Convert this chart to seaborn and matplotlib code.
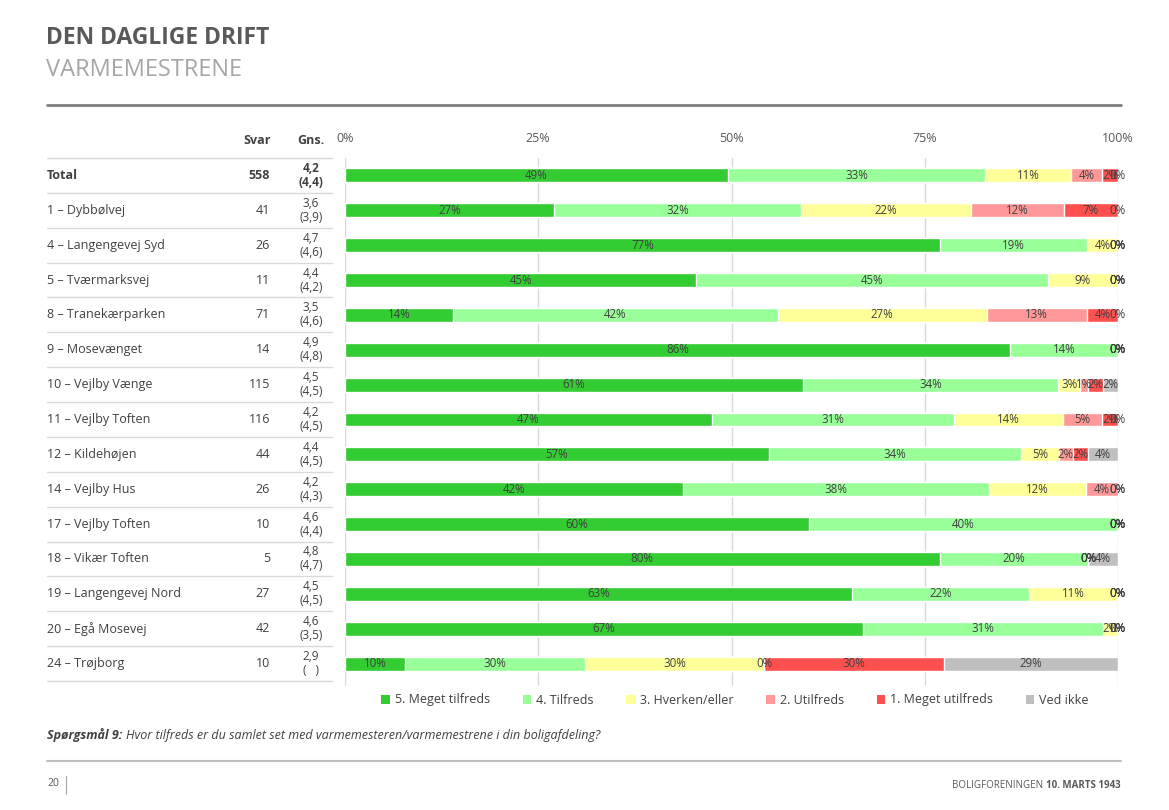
import matplotlib
matplotlib.use("Agg")
import matplotlib.pyplot as plt
import seaborn as sns
import pandas as pd
import numpy as np
from matplotlib.patches import Patch
from matplotlib.lines import Line2D
from matplotlib.transforms import blended_transform_factory

sns.set_style("white")
plt.rcParams['font.family'] = ['Open Sans', 'DejaVu Sans']

categories = ["Total", "1 – Dybbølvej", "4 – Langengevej Syd", "5 – Tværmarksvej",
              "8 – Tranekærparken", "9 – Mosevænget", "10 – Vejlby Vænge",
              "11 – Vejlby Toften", "12 – Kildehøjen", "14 – Vejlby Hus",
              "17 – Vejlby Toften", "18 – Vikær Toften", "19 – Langengevej Nord",
              "20 – Egå Mosevej", "24 – Trøjborg"]
svar = [558, 41, 26, 11, 71, 14, 115, 116, 44, 26, 10, 5, 27, 42, 10]
gns = ["4,2", "3,6", "4,7", "4,4", "3,5", "4,9", "4,5", "4,2", "4,4", "4,2", "4,6", "4,8", "4,5", "4,6", "2,9"]
gns_prev = ["(4,4)", "(3,9)", "(4,6)", "(4,2)", "(4,6)", "(4,8)", "(4,5)", "(4,5)", "(4,5)", "(4,3)", "(4,4)", "(4,7)", "(4,5)", "(3,5)", "(   )"]

meget_tilfreds = [49, 27, 77, 45, 14, 86, 61, 47, 57, 42, 60, 80, 63, 67, 10]
tilfreds = [33, 32, 19, 45, 42, 14, 34, 31, 34, 38, 40, 20, 22, 31, 30]
hverken = [11, 22, 4, 9, 27, 0, 3, 14, 5, 12, 0, 0, 11, 2, 30]
utilfreds = [4, 12, 0, 0, 13, 0, 1, 5, 2, 4, 0, 0, 0, 0, 0]
meget_utilfreds = [2, 7, 0, 0, 4, 0, 2, 2, 2, 0, 0, 0, 0, 0, 30]
ved_ikke = [0, 0, 0, 0, 0, 0, 2, 0, 4, 0, 0, 4, 0, 0, 29]

series_names = ["5. Meget tilfreds", "4. Tilfreds", "3. Hverken/eller",
                "2. Utilfreds", "1. Meget utilfreds", "Ved ikke"]
series_colors = ["#33CC33", "#99FF99", "#FFFF99", "#FF9999", "#FF5050", "#BFBFBF"]
tick_vals = [0, 0.25, 0.5, 0.75, 1.0]
tick_labels = ["0%", "25%", "50%", "75%", "100%"]

raw = np.array([meget_tilfreds, tilfreds, hverken, utilfreds, meget_utilfreds, ved_ikke], dtype=float).T
share = raw / raw.sum(axis=1, keepdims=True)
cum = np.cumsum(share, axis=1)

df = pd.DataFrame({"cat": categories})
for k in range(6):
    df[f"c{k}"] = cum[:, k]

W, H = 1169, 810
top_px, rows_bottom_px, axes_bottom_px = 158, 681, 686
n = len(categories)
row_px = (rows_bottom_px - top_px) / n
fig = plt.figure(figsize=(W / 100, H / 100), dpi=100)
ax = fig.add_axes([345 / W, 1 - axes_bottom_px / H, (1118 - 345) / W, (axes_bottom_px - top_px) / H])

for k in range(5, -1, -1):
    sns.barplot(data=df, x=f"c{k}", y="cat", orient="h", color=series_colors[k],
                saturation=1, width=0.4, errorbar=None, ax=ax, zorder=3)

ax.set_xlim(0, 1)
ax.set_ylim(-0.5 + (axes_bottom_px - top_px) / row_px, -0.5)
ax.set_xlabel("")
ax.set_ylabel("")
ax.set_xticks(tick_vals)
ax.set_xticklabels(tick_labels)
ax.xaxis.tick_top()
ax.tick_params(axis="x", length=0, pad=9, labelsize=9, labelcolor="#595959")
ax.tick_params(axis="y", left=False, labelleft=False)
for s in ax.spines.values():
    s.set_visible(False)
ax.grid(axis="x", color="#D9D9D9", lw=1, zorder=0)
ax.set_axisbelow(True)

# segment labels
for i in range(n):
    start = 0.0
    for k in range(6):
        w = share[i, k]
        ax.text(start + w / 2, i, f"{int(raw[i, k])}%", ha="center", va="center",
                fontsize=8.3, color="#404040", zorder=5)
        start += w

# table
tr = blended_transform_factory(fig.transFigure, ax.transData)
tcol = "#404040"
for i, cat in enumerate(categories):
    bold = "bold" if i == 0 else "normal"
    fig.text(47 / W, i, cat, transform=tr, ha="left", va="center", fontsize=9,
             color=tcol, fontweight=bold)
    fig.text(270 / W, i, str(svar[i]), transform=tr, ha="right", va="center", fontsize=9,
             color=tcol, fontweight=bold)
    fig.text(311 / W, i, gns[i] + "\n" + gns_prev[i], transform=tr, ha="center", va="center",
             fontsize=8.5, color=tcol, fontweight=bold, linespacing=1.1)
for b in np.arange(-0.5, n, 1.0):
    fig.add_artist(Line2D([47 / W, 332 / W], [b, b], transform=tr, color="#D9D9D9", lw=1))

fig.text(271 / W, 1 - 141 / H, "Svar", ha="right", va="center", fontsize=9, color=tcol, fontweight="bold")
fig.text(311 / W, 1 - 141 / H, "Gns.", ha="center", va="center", fontsize=9, color=tcol, fontweight="bold")

# titles
fig.text(46 / W, 1 - 38 / H, "DEN DAGLIGE DRIFT", ha="left", va="center", fontsize=16.5,
         fontweight="bold", color="#595959")
fig.text(46 / W, 1 - 70 / H, "VARMEMESTRENE", ha="left", va="center", fontsize=17,
         color="#A6A6A6")
fig.add_artist(Line2D([47 / W, 1121 / W], [1 - 105 / H, 1 - 105 / H], color="#7F7F7F", lw=2))

# legend
handles = [Patch(facecolor=c, edgecolor="none", label=n_) for n_, c in zip(series_names, series_colors)]
fig.legend(handles=handles, loc="center", bbox_to_anchor=(735 / W, 1 - 700 / H), ncol=6,
           frameon=False, fontsize=9, handlelength=0.7, handleheight=0.7, handletextpad=0.4,
           columnspacing=2.6, labelcolor="#404040")

# question
t1 = fig.text(47 / W, 1 - 735 / H, "Spørgsmål 9:", ha="left", va="center", fontsize=9,
              fontweight="bold", style="italic", color="#404040")
fig.canvas.draw()
bb = t1.get_window_extent(fig.canvas.get_renderer())
fig.text(bb.x1 / W + 4 / W, 1 - 735 / H, "Hvor tilfreds er du samlet set med varmemesteren/varmemestrene i din boligafdeling?",
         ha="left", va="center", fontsize=9, style="italic", color="#404040")

fig.add_artist(Line2D([47 / W, 1121 / W], [1 - 761 / H, 1 - 761 / H], color="#BFBFBF", lw=1.5))
fig.text(47 / W, 1 - 784 / H, "20", ha="left", va="center", fontsize=7.5, color="#595959")
fig.add_artist(Line2D([66 / W, 66 / W], [1 - 776 / H, 1 - 794 / H], color="#A6A6A6", lw=0.8))
t2 = fig.text(1121 / W, 1 - 786 / H, "10. MARTS 1943", ha="right", va="center", fontsize=7,
              fontweight="bold", color="#595959")
fig.canvas.draw()
bb2 = t2.get_window_extent(fig.canvas.get_renderer())
fig.text(bb2.x0 / W - 3 / W, 1 - 786 / H, "BOLIGFORENINGEN", ha="right", va="center", fontsize=7,
         color="#595959")

fig.savefig("out.png", dpi=100)
